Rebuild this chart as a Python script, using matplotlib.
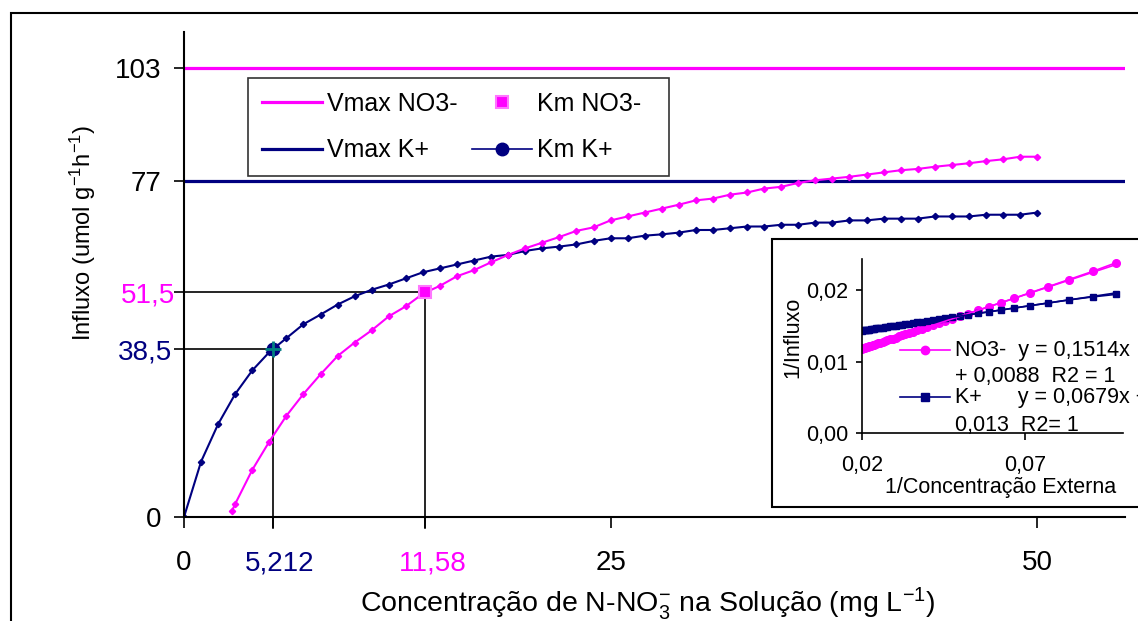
import matplotlib
matplotlib.use("Agg")
import matplotlib.pyplot as plt
from matplotlib.patches import Rectangle
from matplotlib.transforms import ScaledTranslation

plt.rcParams["font.family"] = ["Liberation Sans", "DejaVu Sans"]
plt.rcParams["mathtext.fontset"] = "custom"
plt.rcParams["mathtext.rm"] = "Liberation Sans"
plt.rcParams["mathtext.it"] = "Liberation Sans:italic"
plt.rcParams["mathtext.bf"] = "Liberation Sans:bold"

MAG, NAVY, TEAL = "#FF00FF", "#000080", "#008080"

# influx curves (umol g-1 h-1) vs N-NO3 concentration (mg L-1)
k_conc = list(range(0, 51))
k_influx = [0, 12.7, 21.3, 28.2, 33.6, 37.8, 41.0, 44.2, 46.4, 48.7,
            50.6, 52.1, 53.3, 54.7, 56.1, 57.0, 57.9, 58.8, 59.7, 60.1,
            61.0, 61.6, 62.0, 62.5, 63.3, 63.9, 63.9, 64.5, 64.8, 65.2,
            65.8, 65.8, 66.2, 66.6, 66.6, 67.0, 67.0, 67.5, 67.5, 68.0,
            68.0, 68.4, 68.4, 68.4, 68.9, 68.9, 68.9, 69.3, 69.3, 69.3, 69.8]
no3_conc = [2.8] + list(range(3, 51))
no3_influx = [1.3, 3.0, 10.8, 17.3, 23.2, 28.2, 32.7, 36.9, 40.0, 42.8,
              46.0, 48.3, 51.2, 53.0, 55.2, 56.6, 58.4, 60.1, 61.6, 62.9,
              64.2, 65.6, 66.4, 68.0, 68.9, 69.8, 70.7, 71.6, 72.6, 73.0,
              73.9, 74.4, 75.3, 75.7, 76.6, 77.2, 77.6, 78.0, 78.5, 79.0,
              79.5, 79.8, 80.3, 80.7, 81.1, 81.6, 82.0, 82.6, 82.6]

vmax_no3, vmax_k = 103, 77
km_no3 = (14.1, 51.5)    # labelled 11,58 on the axis
km_k = (5.212, 38.5)

x_ticks = [0, 5.212, 14.1, 25, 50]
x_labels = ["0", "5,212", "11,58", "25", "50"]
x_colors = ["black", NAVY, MAG, "black", "black"]
y_ticks = [0, 38.5, 51.5, 77, 103]
y_labels = ["0", "38,5", "51,5", "77", "103"]
y_colors = ["black", NAVY, MAG, "black", "black"]

# inset: 1/influx vs 1/concentration
inv_conc = [0.0980, 0.0909, 0.0833, 0.0769, 0.0714, 0.0667, 0.0625, 0.0588,
            0.0556, 0.0526, 0.0500, 0.0476, 0.0455, 0.0435, 0.0417, 0.0400,
            0.0385, 0.0370, 0.0357, 0.0345, 0.0333, 0.0323, 0.0313, 0.0303,
            0.0294, 0.0286, 0.0278, 0.0270, 0.0263, 0.0256, 0.0250, 0.0244,
            0.0238, 0.0233, 0.0227, 0.0222, 0.0217, 0.0213, 0.0208, 0.0204, 0.0200]
inv_no3 = [0.02390, 0.02270, 0.02150, 0.02050, 0.01965, 0.01890, 0.01826, 0.01770,
           0.01722, 0.01676, 0.01637, 0.01601, 0.01569, 0.01539, 0.01511, 0.01486,
           0.01463, 0.01440, 0.01420, 0.01402, 0.01384, 0.01369, 0.01354, 0.01339,
           0.01325, 0.01313, 0.01301, 0.01289, 0.01278, 0.01268, 0.01259, 0.01249,
           0.01240, 0.01233, 0.01224, 0.01216, 0.01209, 0.01202, 0.01195, 0.01189, 0.01183]
inv_k = [0.01945, 0.01910, 0.01866, 0.01822, 0.01785, 0.01753, 0.01724, 0.01699,
         0.01678, 0.01657, 0.01640, 0.01623, 0.01609, 0.01595, 0.01583, 0.01572,
         0.01561, 0.01551, 0.01542, 0.01534, 0.01526, 0.01519, 0.01513, 0.01506,
         0.01500, 0.01494, 0.01489, 0.01483, 0.01479, 0.01474, 0.01470, 0.01466,
         0.01462, 0.01458, 0.01454, 0.01451, 0.01447, 0.01445, 0.01441, 0.01439, 0.01436]
fit_no3 = (0.1514, 0.0088)
fit_k = (0.0679, 0.013)

fig = plt.figure(figsize=(11.38, 6.21), dpi=100)
fig.patches.append(Rectangle((0.0097, -0.2), 1.5, 1.179, transform=fig.transFigure,
                             fill=False, ec="black", lw=1.5, zorder=-1))

ax = fig.add_axes([0.1617, 0.1675, 0.8269, 0.781])
ax.set_facecolor("none")
ax.set_xlim(0, 55.15)
ax.set_ylim(0, 111.2)
for s in ("top", "right"):
    ax.spines[s].set_visible(False)
for s in ("left", "bottom"):
    ax.spines[s].set_linewidth(1.5)

h_vn = ax.axhline(vmax_no3, color=MAG, lw=2.3, label="Vmax NO3-")
h_vk = ax.axhline(vmax_k, color=NAVY, lw=2.3, label="Vmax K+")
ax.plot(k_conc, k_influx, color=NAVY, lw=1.5, marker="D", ms=3.2)
ax.plot(no3_conc, no3_influx, color=MAG, lw=1.5, marker="D", ms=3.2)

# drop lines from the Km points to both axes
for kx, ky in (km_k, km_no3):
    ax.plot([0, kx, kx], [ky, ky, -2.6], color="black", lw=1.2, clip_on=False, zorder=1)

h_kn, = ax.plot(*km_no3, ls="none", marker="s", ms=9, mfc=MAG, mec="#FF77FF",
                mew=1.5, label="Km NO3-  ", zorder=4)
h_kk, = ax.plot(*km_k, ls="-", lw=1.2, marker="o", ms=9, color=NAVY,
                label="Km K+", zorder=4)
ax.plot(*km_k, marker="+", ms=11, mew=2, color=TEAL, zorder=5)

ax.set_xticks(x_ticks)
ax.set_xticklabels(x_labels)
ax.set_yticks(y_ticks)
ax.set_yticklabels(y_labels)
ax.tick_params(axis="x", direction="out", length=8, width=1.2, labelsize=20, pad=16)
ax.tick_params(axis="y", direction="out", length=7, width=1.2, labelsize=20, pad=9)
x_shift = [0, 0.07, 0.08, 0, 0]
y_shift = [0, 0.10, 0.13, 0, 0]
for t, c, d in zip(ax.get_xticklabels(), x_colors, x_shift):
    t.set_color(c)
    t.set_transform(t.get_transform() + ScaledTranslation(d, 0, fig.dpi_scale_trans))
for t, c, d in zip(ax.get_yticklabels(), y_colors, y_shift):
    t.set_color(c)
    t.set_transform(t.get_transform() + ScaledTranslation(d, 0, fig.dpi_scale_trans))

ax.set_ylabel("Influxo (umol g$^{-1}$h$^{-1}$)", fontsize=17)
ax.yaxis.set_label_coords(-0.0914, 0.585)
ax.set_xlabel("Concentração de N-NO$_3^{-}$ na Solução (mg L$^{-1}$)", fontsize=20.5)
ax.xaxis.label.set_va("baseline")
ax.xaxis.set_label_coords(0.493, -0.196)

leg = ax.legend(handles=[h_vn, h_vk, h_kn, h_kk], ncol=2, loc="upper left",
                bbox_to_anchor=(0.068, 0.905), fontsize=18, frameon=True,
                fancybox=False, edgecolor="black", handlelength=2.4,
                handletextpad=0.2, columnspacing=0.6, labelspacing=0.9,
                borderpad=0.55, borderaxespad=0)
leg.get_frame().set_linewidth(1.2)

# inset box and axes
fig.patches.append(Rectangle((0.6784, 0.1836), 0.5, 0.4316, transform=fig.transFigure,
                             fc="white", ec="black", lw=1.5, zorder=2))
ai = fig.add_axes([0.7575, 0.3027, 0.2293, 0.2802], zorder=3)
ai.set_facecolor("none")
ai.set_xlim(0.02, 0.1)
ai.set_ylim(0, 0.0244)
for s in ("top", "right"):
    ai.spines[s].set_visible(False)
for s in ("left", "bottom"):
    ai.spines[s].set_linewidth(1.2)

ai.plot(inv_conc, inv_no3, color=MAG, lw=1.2, marker="o", ms=5.5)
ai.plot(inv_conc, inv_k, color=NAVY, lw=1.2, marker="s", ms=5)
xs = [inv_conc[-1], inv_conc[0]]
ai.plot(xs, [fit_no3[0] * x + fit_no3[1] for x in xs], color=MAG, lw=1.2)
ai.plot(xs, [fit_k[0] * x + fit_k[1] for x in xs], color=NAVY, lw=1.2)

ai.set_xticks([0.02, 0.07])
ai.set_xticklabels(["0,02", "0,07"])
ai.set_yticks([0, 0.01, 0.02])
ai.set_yticklabels(["0,00", "0,01", "0,02"])
ai.tick_params(axis="x", direction="out", length=5, width=1.2, labelsize=15.5, pad=11)
ai.tick_params(axis="y", direction="out", length=4, width=1.2, labelsize=15.5, pad=6)
ai.set_ylabel("1/Influxo", fontsize=15.5)
ai.yaxis.set_label_coords(-0.226, 0.552)
ai.set_xlabel("1/Concentração Externa", fontsize=15.5)
ai.xaxis.set_label_coords(0.529, -0.25)

# inset legend with the fitted equations
tr = ai.transAxes
ai.plot([0.1456, 0.337], [0.477, 0.477], color=MAG, lw=1.2, transform=tr, clip_on=False)
ai.plot([0.241], [0.477], color=MAG, marker="o", ms=6, transform=tr, clip_on=False)
ai.plot([0.1456, 0.337], [0.207, 0.207], color=NAVY, lw=1.2, transform=tr, clip_on=False)
ai.plot([0.241], [0.207], color=NAVY, marker="s", ms=5.5, transform=tr, clip_on=False)
ai.text(0.356, 0.477, "NO3-  y = 0,1514x", transform=tr, fontsize=15.5, va="center")
ai.text(0.356, 0.322, "+ 0,0088  R2 = 1", transform=tr, fontsize=15.5, va="center")
ai.text(0.356, 0.207, "K+      y = 0,0679x +", transform=tr, fontsize=15.5, va="center")
ai.text(0.356, 0.046, "0,013  R2= 1", transform=tr, fontsize=15.5, va="center")

fig.savefig("out.png", dpi=100)
